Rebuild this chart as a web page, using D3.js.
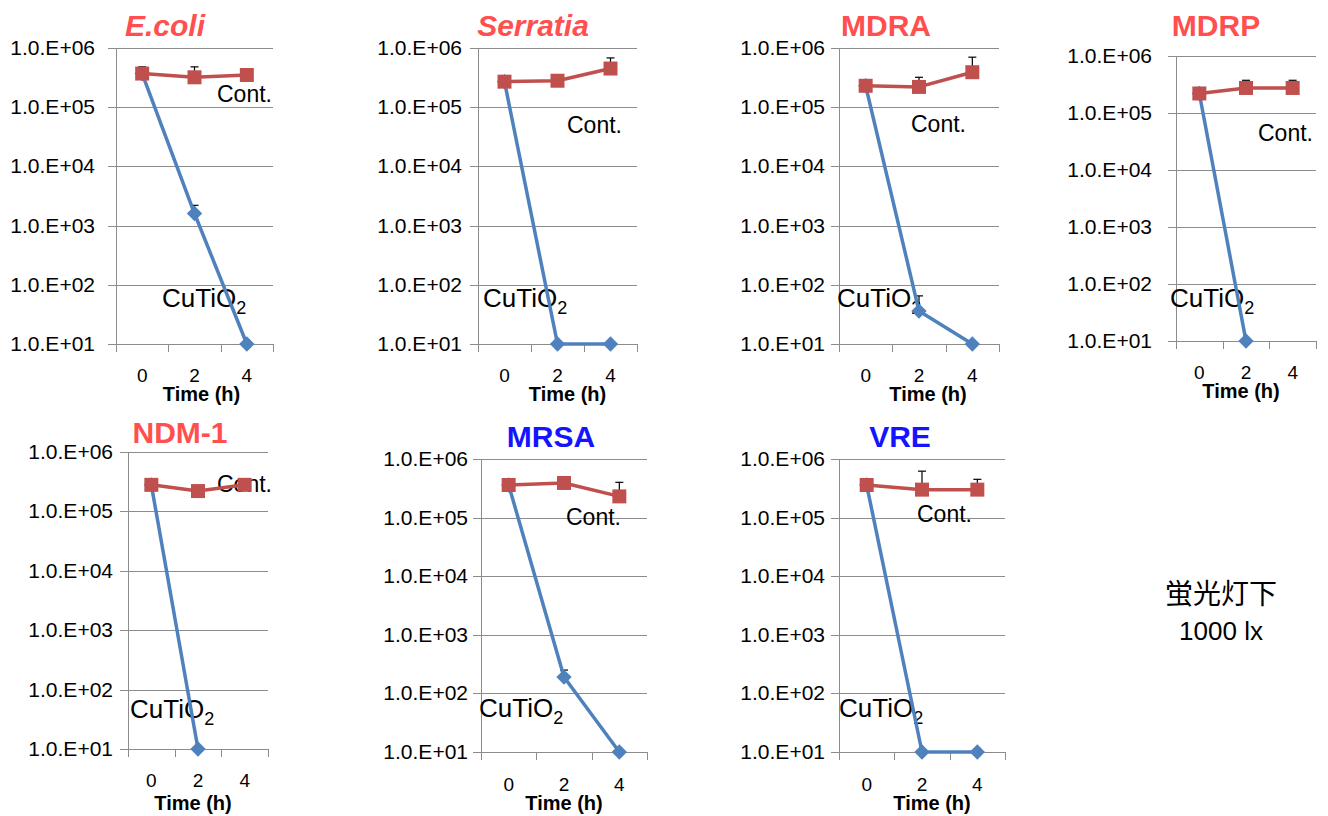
<!DOCTYPE html>
<html>
<head>
<meta charset="utf-8">
<script src="https://cdn.jsdelivr.net/npm/d3@7"></script>
<style>
  html, body { margin: 0; padding: 0; background: #fff; }
  svg text { font-family: "Liberation Sans", Arial, sans-serif; }
</style>
</head>
<body>
<svg id="chart" width="1328" height="816"></svg>
<script>
// Viable counts (CFU) over time under fluorescent light, per strain
const times = ["0", "2", "4"];
const yTickValues = [1e1, 1e2, 1e3, 1e4, 1e5, 1e6];
const yTickLabels = ["1.0.E+01", "1.0.E+02", "1.0.E+03", "1.0.E+04", "1.0.E+05", "1.0.E+06"];
const strains = ["E.coli", "Serratia", "MDRA", "MDRP", "NDM-1", "MRSA", "VRE"];
const gramGroup = ["neg", "neg", "neg", "neg", "neg", "pos", "pos"];

// Control (no coating)
const contValues = [
  [3.7e5, 3.2e5, 3.5e5],
  [2.7e5, 2.8e5, 4.5e5],
  [2.3e5, 2.2e5, 3.9e5],
  [2.2e5, 2.75e5, 2.75e5],
  [2.8e5, 2.2e5, 2.8e5],
  [3.6e5, 3.9e5, 2.3e5],
  [3.6e5, 3.0e5, 3.0e5]
];
const contSD = [
  [1.1e5, 1.6e5, 0],
  [0, 0, 2.3e5],
  [0, 1.0e5, 3.1e5],
  [0, 1.0e5, 1.0e5],
  [0, 0, 0],
  [0, 0, 1.7e5],
  [0, 3.2e5, 1.5e5]
];
// CuTiO2 coated
const cuValues = [
  [3.7e5, 1.6e3, 10],
  [2.7e5, 10, 10],
  [2.3e5, 36, 10],
  [2.2e5, 10, null],
  [2.8e5, 10, null],
  [3.6e5, 190, 10],
  [3.6e5, 10, 10]
];
const cuSD = [
  [0, 6e2, 0],
  [0, 0, 0],
  [0, 29, 0],
  [0, 0, 0],
  [0, 0, 0],
  [0, 60, 0],
  [0, 0, 0]
];

// Panel geometry
const layout = [
  {left:116, right:273, top:48,  bottom:344, title:[165,36],  italic:true,  cont:[217,102], cu:[162,307], xl:382, xt:401, tdx:7,  gap:21},
  {left:478, right:637, top:48,  bottom:344, title:[533,36],  italic:true,  cont:[567,133], cu:[483,307], xl:382, xt:401, tdx:10, gap:16},
  {left:839, right:999, top:48,  bottom:344, title:[886,36],  italic:false, cont:[911,132], cu:[837,307], xl:382, xt:401, tdx:9,  gap:14},
  {left:1176,right:1316,top:56,  bottom:341, title:[1216,36], italic:false, cont:[1258,141],cu:[1170,307],xl:379, xt:398, tdx:-5, gap:24},
  {left:128, right:268, top:452, bottom:749, title:[180,443], italic:false, cont:[217,492], cu:[130,718], xl:787, xt:810, tdx:-5, gap:15},
  {left:481, right:647, top:459, bottom:752, title:[551,447], italic:false, cont:[566,525], cu:[479,717], xl:791, xt:810, tdx:0,  gap:13},
  {left:839, right:1005,top:459, bottom:752, title:[900,447], italic:false, cont:[917,522], cu:[839,717], xl:791, xt:810, tdx:10, gap:14}
];

const groupColor = {neg: "#ff4f4f", pos: "#1414ff"};
const contColor = "#c0504d";
const cuColor = "#4f81bd";
const gridColor = "#8c8c8c";

const svg = d3.select("#chart");

strains.forEach((name, i) => {
  const L = layout[i];
  const g = svg.append("g");

  const x = d3.scaleBand().domain(times).range([L.left, L.right]).padding(0);
  const y = d3.scaleLog().domain([10, 1e6]).range([L.bottom, L.top]);

  // horizontal gridlines with outward ticks
  g.selectAll("line.grid").data(yTickValues).join("line")
    .attr("x1", L.left - 8).attr("x2", L.right)
    .attr("y1", d => Math.round(y(d)) + 0.5).attr("y2", d => Math.round(y(d)) + 0.5)
    .attr("stroke", gridColor).attr("stroke-width", 1);

  // left axis line
  g.append("line")
    .attr("x1", L.left + 0.5).attr("x2", L.left + 0.5)
    .attr("y1", L.top).attr("y2", L.bottom + 8)
    .attr("stroke", gridColor).attr("stroke-width", 1);

  // category boundary ticks on x axis
  const bounds = times.map(t => x(t)).concat([x(times[times.length - 1]) + x.bandwidth()]);
  g.selectAll("line.xt").data(bounds.slice(1)).join("line")
    .attr("x1", d => Math.round(d) + 0.5).attr("x2", d => Math.round(d) + 0.5)
    .attr("y1", L.bottom).attr("y2", L.bottom + 8)
    .attr("stroke", gridColor).attr("stroke-width", 1);

  // y tick labels
  g.selectAll("text.yl").data(yTickValues).join("text")
    .attr("x", L.left - L.gap).attr("y", d => y(d) + 7)
    .attr("text-anchor", "end").attr("font-size", 21).attr("fill", "#000")
    .text((d, k) => yTickLabels[k]);

  // x tick labels
  g.selectAll("text.xl").data(times).join("text")
    .attr("x", d => x(d) + x.bandwidth() / 2).attr("y", L.xl)
    .attr("text-anchor", "middle").attr("font-size", 19).attr("fill", "#000")
    .text(d => d);

  // x axis title
  g.append("text")
    .attr("x", (L.left + L.right) / 2 + L.tdx).attr("y", L.xt)
    .attr("text-anchor", "middle").attr("font-size", 20).attr("font-weight", "bold")
    .text("Time (h)");

  // panel title
  g.append("text")
    .attr("x", L.title[0]).attr("y", L.title[1])
    .attr("text-anchor", "middle").attr("font-size", 30).attr("font-weight", "bold")
    .attr("font-style", L.italic ? "italic" : "normal")
    .attr("fill", groupColor[gramGroup[i]])
    .text(name);

  // series labels
  g.append("text").attr("x", L.cont[0]).attr("y", L.cont[1])
    .attr("font-size", 23).text("Cont.");
  const cuText = g.append("text").attr("x", L.cu[0]).attr("y", L.cu[1]).attr("font-size", 26);
  cuText.append("tspan").text("CuTiO");
  cuText.append("tspan").attr("font-size", 18).attr("dy", 7).text("2");

  const cx = t => x(t) + x.bandwidth() / 2;

  function series(vals, sds, color, shape) {
    const pts = times.map((t, k) => ({t, v: vals[k], sd: sds[k]})).filter(p => p.v != null);
    // upper error bars
    pts.filter(p => p.sd > 0).forEach(p => {
      const top = y(p.v + p.sd);
      g.append("line").attr("x1", cx(p.t)).attr("x2", cx(p.t))
        .attr("y1", y(p.v)).attr("y2", top).attr("stroke", "#000").attr("stroke-width", 1.2);
      g.append("line").attr("x1", cx(p.t) - 4).attr("x2", cx(p.t) + 4)
        .attr("y1", top).attr("y2", top).attr("stroke", "#000").attr("stroke-width", 1.2);
    });
    const line = d3.line().x(p => cx(p.t)).y(p => y(p.v));
    g.append("path").datum(pts).attr("d", line)
      .attr("fill", "none").attr("stroke", color).attr("stroke-width", 3.5)
      .attr("stroke-linejoin", "round");
    const sym = d3.symbol().type(shape === "square" ? d3.symbolSquare : d3.symbolDiamond2)
      .size(shape === "square" ? 196 : 150);
    g.selectAll(null).data(pts).join("path")
      .attr("d", sym)
      .attr("transform", p => `translate(${cx(p.t)},${y(p.v)})`)
      .attr("fill", color);
  }

  series(cuValues[i], cuSD[i], cuColor, "diamond");
  series(contValues[i], contSD[i], contColor, "square");
});

// light condition note
svg.append("text").attr("x", 1221).attr("y", 604)
  .attr("text-anchor", "middle").attr("font-size", 28)
  .style("font-family", '"Noto Sans CJK JP", sans-serif')
  .text("蛍光灯下");
svg.append("text").attr("x", 1221).attr("y", 640)
  .attr("text-anchor", "middle").attr("font-size", 26)
  .text("1000 lx");
</script>
</body>
</html>
